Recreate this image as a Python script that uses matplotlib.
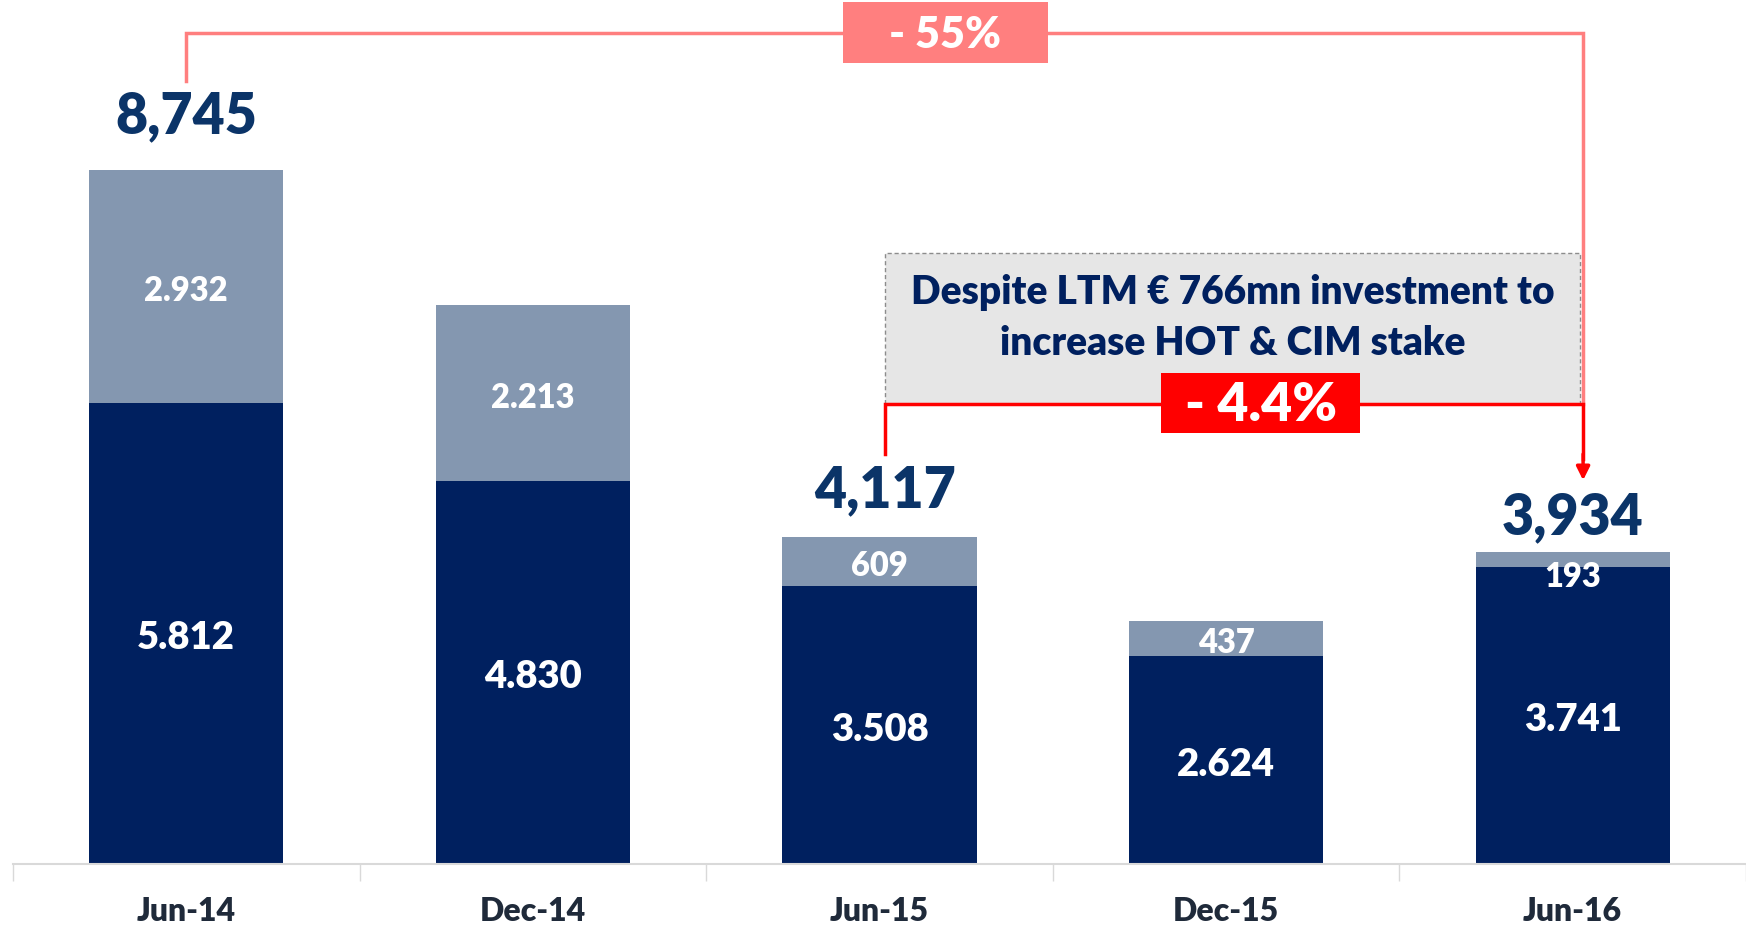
import matplotlib
matplotlib.use("Agg")
import matplotlib.pyplot as plt
from matplotlib.patches import Rectangle, FancyArrowPatch
import numpy as np

categories = ["Jun-14", "Dec-14", "Jun-15", "Dec-15", "Jun-16"]
base_vals = [5812, 4830, 3508, 2624, 3741]
top_vals = [2932, 2213, 609, 437, 193]
base_labels = ["5.812", "4.830", "3.508", "2.624", "3.741"]
top_labels = ["2.932", "2.213", "609", "437", "193"]
total_labels = {0: "8,745", 2: "4,117", 4: "3,934"}
change_long = "- 55%"
change_short = "- 4.4%"
note_text = "Despite LTM € 766mn investment to\nincrease HOT & CIM stake"

NAVY = "#00205F"
GREYBLUE = "#8497B0"
LABEL_BLUE = "#0B3468"
PINK = "#FF7F7F"
RED = "#FF0000"
FONT = ["Lato", "DejaVu Sans"]
WT = "heavy"

fig = plt.figure(figsize=(17.46, 9.30), dpi=100)
ax = fig.add_axes([13/1746, 66/930, 1 - 13/1746, 864/930])
x = np.arange(len(categories))
w = 0.56
ax.bar(x, base_vals, w, color=NAVY, zorder=2)
ax.bar(x, top_vals, w, bottom=base_vals, color=GREYBLUE, zorder=2)
ax.set_xlim(-0.5, 4.5)
ax.set_ylim(0, 10885)

for i in x:
    b, t = base_vals[i], top_vals[i]
    ax.annotate(base_labels[i], (i, b / 2), xytext=(0, -3.5), textcoords="offset points",
                ha="center", va="center", color="white",
                fontsize=27.5, fontweight=WT, family=FONT, zorder=3)
    ty = b + t / 2
    if t < 300:
        ty = b - 60
    ax.annotate(top_labels[i], (i, ty), xytext=(0, -3.5), textcoords="offset points",
                ha="center", va="center", color="white",
                fontsize=23.5, fontweight=WT, family=FONT, zorder=3)

offsets = {0: 20, 2: 15, 4: 6}
for i, lab in total_labels.items():
    tot = base_vals[i] + top_vals[i]
    ax.annotate(lab, (i + (0.015 if i == 2 else 0), tot), xytext=(0, offsets[i]),
                textcoords="offset points",
                ha="center", va="bottom", color=LABEL_BLUE, fontsize=40,
                fontweight=WT, family=FONT, zorder=3)

# axis styling
for s in ["top", "right", "left"]:
    ax.spines[s].set_visible(False)
ax.spines["bottom"].set_color("#D9D9D9")
ax.spines["bottom"].set_linewidth(1.5)
ax.set_yticks([])
ax.set_xticks(np.arange(-0.5, 5, 1))
ax.set_xticklabels([])
ax.tick_params(axis="x", which="major", length=12, color="#D9D9D9", width=1)
ax.set_xticks(x, minor=True)
ax.set_xticklabels(categories, minor=True, fontsize=23, fontweight=WT,
                   family=FONT, color="#1F2A3A")
ax.tick_params(axis="x", which="minor", length=0, pad=24)

# grey note box
ax.add_patch(Rectangle((2.016, 5796), 4.02 - 2.016, 7698 - 5796,
                       facecolor="#E6E6E6", edgecolor="#8C8C8C", linestyle=(0, (3, 2)),
                       linewidth=1, zorder=1))
ax.text(3.02, 6880, note_text, ha="center", va="center", color="#00205F",
        fontsize=28, fontweight=WT, family=FONT, linespacing=1.45, zorder=4)

# pink -55% bracket
ax.plot([0, 0, 4.03, 4.03], [9865, 10470, 10470, 5796], color=PINK, lw=2.5,
        zorder=4, solid_joinstyle="miter")
ax.add_patch(Rectangle((2.19 - 0.295, 10470 - 384), 0.59, 768,
                       facecolor=PINK, edgecolor="none", zorder=5))
ax.text(2.19, 10440, change_long, ha="center", va="center", color="white",
        fontsize=31, fontweight=WT, family=FONT, zorder=6)

# red -4.4% bracket
ax.plot([2.016, 2.016, 4.03, 4.03], [5166, 5796, 5796, 5100], color=RED, lw=2.5,
        zorder=4, solid_joinstyle="miter")
ax.add_patch(FancyArrowPatch((4.03, 5200), (4.03, 4800), arrowstyle="-|>",
                             mutation_scale=20, color=RED, lw=2.5, zorder=4))
ax.add_patch(Rectangle((3.10 - 0.287, 5808 - 378), 0.574, 756,
                       facecolor=RED, edgecolor="none", zorder=5))
ax.text(3.10, 5780, change_short, ha="center", va="center", color="white",
        fontsize=38.5, fontweight=WT, family=FONT, zorder=6)

fig.savefig("out.png", dpi=100)
